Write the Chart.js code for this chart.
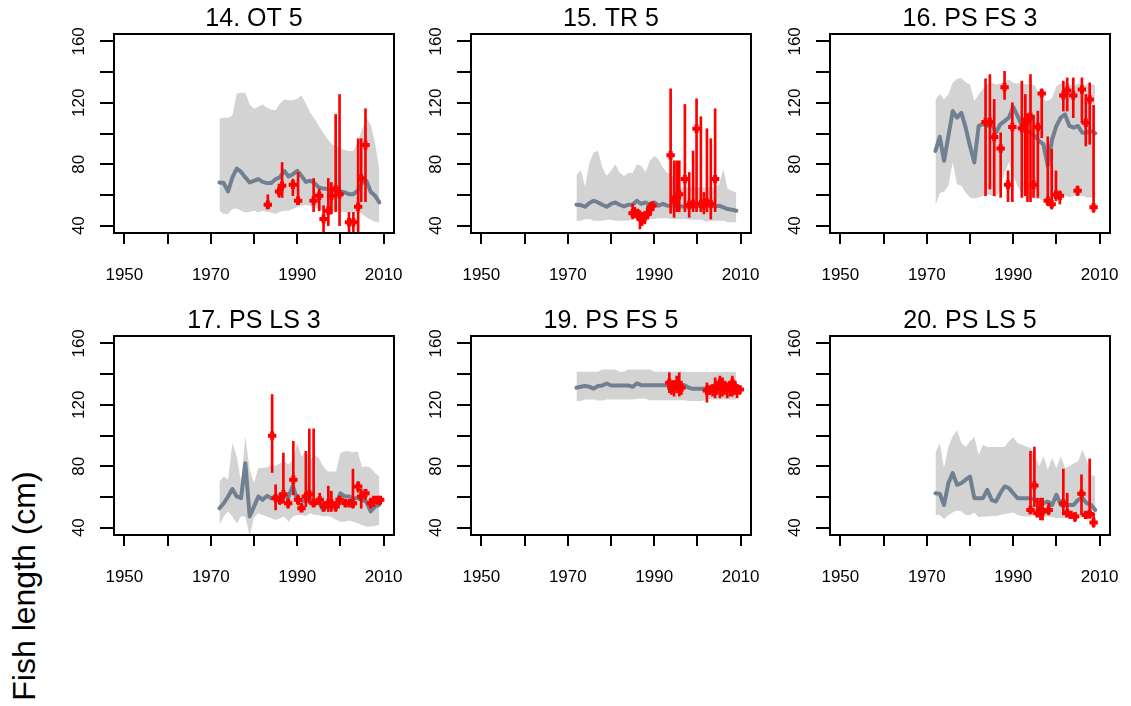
<!DOCTYPE html>
<html>
<head>
<meta charset="utf-8">
<script src="https://cdn.jsdelivr.net/npm/chart.js@4.4.0/dist/chart.umd.min.js"></script>
<style>
  html, body { margin:0; padding:0; background:#fff; }
  body { width:1131px; height:706px; position:relative; overflow:hidden; font-family:"Liberation Sans", Arial, sans-serif; }
  canvas { position:absolute; }
  #ylab { position:absolute; width:300px; height:38px; line-height:38px; text-align:center;
          font-size:32px; color:#000; left:-126.1px; top:566.5px; transform:rotate(-90deg); white-space:nowrap; }
</style>
</head>
<body>
<div id="ylab">Fish length (cm)</div>
<canvas id="c14" width="352" height="293"></canvas>
<canvas id="c15" width="352" height="293"></canvas>
<canvas id="c16" width="352" height="293"></canvas>
<canvas id="c17" width="352" height="293"></canvas>
<canvas id="c19" width="352" height="293"></canvas>
<canvas id="c20" width="352" height="293"></canvas>
<script>
// ---------- axis ticks ----------
const xTicks = [1950,1960,1970,1980,1990,2000,2010];
const xLabeled = [1950,1970,1990,2010];
const yTicks = [40,60,80,100,120,140,160];
const yLabeled = [40,80,120,160];

// ---------- model years ----------
const modelYears = [1972,1973,1974,1975,1976,1977,1978,1979,1980,1981,1982,1983,1984,1985,1986,1987,1988,1989,1990,1991,1992,1993,1994,1995,1996,1997,1998,1999,2000,2001,2002,2003,2004,2005,2006,2007,2008,2009];

// ---------- 14. OT 5 ----------
const upper14 = [109.6,110.3,110.3,111.8,126.1,126.5,126.5,118.9,116.1,117.4,118.9,116.8,115.7,115.2,119.6,122.2,121.7,121.7,122.6,124.8,119.6,113.5,109.6,104.9,100.5,96.2,93.0,91.9,90.2,89.3,88.6,88.6,94.1,102.7,110.3,105.9,94.1,76.8];
const lower14 = [49.7,47.6,47.6,50.8,51.2,49.7,48.6,49.1,49.7,48.6,49.7,49.1,48.6,47.6,49.1,49.7,49.7,50.8,51.9,53.0,53.4,53.0,51.9,50.8,49.7,48.6,49.7,49.7,49.1,48.6,48.6,48.2,49.1,47.6,45.4,43.9,42.6,42.2];
const model14 = [68.1,67.7,62.3,71.4,77.2,75.0,71.4,68.1,69.2,70.3,68.5,67.7,67.7,70.3,71.4,75.7,72.0,73.5,75.7,72.4,68.5,69.2,67.7,64.9,64.2,63.8,62.7,64.2,62.3,61.6,60.5,60.5,62.7,67.7,69.2,62.1,59.5,55.1];
const obsYear14 = [1983.2,1985.8,1986.5,1989.0,1990.2,1993.8,1995.1,1996.1,1997.2,1997.9,1998.9,1999.8,2002.0,2003.0,2004.1,2004.8,2005.8];
const obsMean14 = [53.6,62.3,66.0,66.6,56.2,56.2,59.5,44.3,49.7,59.5,63.8,60.5,42.2,42.2,52.3,70.9,92.5];
const obsLo14   = [50.8,58.4,58.4,59.5,54.0,49.1,49.7,34.6,40.0,47.6,49.1,40.0,34.6,34.6,34.6,55.6,55.6];
const obsHi14   = [60.1,67.0,81.1,70.3,74.6,70.7,63.8,53.0,70.7,68.1,112.4,125.4,48.6,48.6,96.6,96.6,116.1];

// ---------- 15. TR 5 ----------
const upper15 = [72.9,76.3,65.5,81.1,87.6,88.6,77.8,72.4,75.7,80.0,74.6,72.4,74.2,74.2,80.0,78.9,75.0,82.2,85.4,83.2,77.8,74.2,74.6,65.9,64.9,64.9,64.9,64.9,64.9,64.9,64.9,64.9,64.9,67.0,76.8,63.8,62.7,61.6];
const lower15 = [43.2,43.2,44.3,44.3,43.2,43.2,43.2,43.9,43.9,43.2,43.2,43.2,43.2,44.3,44.3,43.9,44.3,44.3,44.3,44.8,44.8,44.8,44.3,44.3,44.3,44.3,43.9,43.9,43.9,43.9,42.6,43.2,43.2,43.2,43.2,42.2,42.2,42.2];
const model15 = [53.6,53.4,52.3,54.7,56.2,55.1,53.6,52.3,54.1,55.1,53.6,52.5,53.6,53.6,56.2,54.1,55.1,53.6,55.1,53.0,54.1,53.0,53.0,53.0,52.5,52.5,53.0,52.5,53.0,52.5,53.0,53.4,52.5,53.0,51.9,50.8,50.4,49.7];
const obsYear15 = [1985.0,1985.5,1986.2,1986.7,1987.2,1987.8,1988.5,1989.1,1989.6,1993.8,1994.6,1995.2,1995.8,1997.1,1998.1,1999.0,1999.8,2000.8,2001.5,2002.2,2003.1,2004.1];
const obsMean15 = [48.0,48.0,47.6,45.4,44.3,45.4,48.2,50.8,53.0,85.8,56.9,58.4,60.5,70.3,53.4,54.1,103.1,54.1,54.1,55.1,54.1,70.3];
const obsLo15   = [44.3,45.4,43.2,37.8,40.0,41.1,44.3,46.5,49.7,48.0,45.4,49.1,49.1,49.1,45.4,49.1,49.1,49.1,47.6,49.1,44.3,49.1];
const obsHi15   = [54.1,51.9,50.8,49.7,48.6,49.1,53.0,55.1,55.6,129.1,82.2,82.2,82.2,118.9,74.6,88.6,122.6,110.9,61.6,103.1,96.6,116.1];

// ---------- 16. PS FS 3 ----------
const upper16 = [122.2,125.8,122.2,125.4,133.0,135.6,136.2,133.4,131.9,121.1,125.4,129.1,131.9,133.0,131.9,132.5,134.1,135.1,133.0,132.5,132.5,131.9,131.9,131.2,125.4,122.2,121.1,123.2,130.8,132.5,133.0,132.5,130.8,132.5,131.9,131.9,131.9,131.9];
const lower16 = [53.0,61.2,62.1,65.9,81.1,67.0,65.9,61.6,58.4,57.7,58.4,59.5,60.5,59.5,58.4,63.8,74.6,81.1,72.4,65.9,60.5,59.5,58.4,57.3,57.3,56.2,55.1,56.2,59.5,60.5,59.5,58.4,59.5,59.5,59.5,58.4,58.4,58.4];
const model16 = [88.6,97.9,82.2,98.4,114.6,110.3,113.5,103.8,91.9,81.1,104.9,106.4,104.9,105.9,100.5,105.9,108.1,110.3,117.4,111.4,104.9,101.6,100.5,98.4,95.1,93.0,78.9,96.2,104.9,110.3,112.4,104.9,103.8,104.9,100.5,100.5,101.6,100.1];
const obsYear16 = [1983.6,1984.6,1985.6,1987.1,1988.0,1988.8,1989.8,1992.0,1992.8,1993.3,1994.0,1994.7,1995.7,1996.6,1998.0,1998.9,1999.9,2000.8,2001.6,2002.5,2003.9,2004.9,2005.9,2006.8,2007.7,2008.6];
const obsMean16 = [107.5,107.5,97.7,90.2,130.2,66.6,104.2,103.4,107.0,109.2,110.9,66.6,104.2,126.1,56.2,54.0,60.1,59.5,124.8,128.0,124.8,62.7,128.6,107.0,122.2,51.9];
const obsLo16   = [59.5,63.8,59.5,58.4,122.2,55.6,55.6,58.4,59.5,55.6,55.6,58.4,58.4,97.3,53.0,50.8,56.2,54.1,114.6,114.6,110.3,59.5,107.0,91.9,93.0,48.6];
const obsHi16   = [135.6,138.4,122.2,100.5,140.5,75.7,120.0,134.1,125.4,113.0,138.4,111.4,114.6,129.1,97.9,89.7,75.7,62.7,134.1,136.2,136.2,65.9,136.2,125.4,133.0,118.3];

// ---------- 17. PS LS 3 ----------
const upper17 = [70.1,73.3,71.2,95.1,86.4,70.1,99.5,77.7,69.0,78.8,78.8,79.4,80.3,80.3,82.0,83.1,81.0,84.2,95.1,86.4,89.7,84.2,87.5,85.3,79.9,76.6,76.6,76.6,88.6,89.7,89.7,89.0,89.7,79.4,79.9,78.8,75.5,73.3];
const lower17 = [41.7,47.2,50.5,47.2,42.8,47.2,47.2,34.1,46.8,49.4,48.3,47.2,46.1,45.0,46.1,47.2,43.9,47.2,48.3,48.3,47.6,49.4,48.3,48.3,47.2,47.6,46.8,45.0,43.9,43.9,44.6,43.9,42.8,41.7,40.7,40.7,41.1,41.7];
const model17 = [52.6,55.9,60.3,65.1,60.3,59.2,82.0,47.2,53.7,60.3,58.1,60.7,59.2,60.3,59.2,60.3,60.3,67.2,58.1,58.1,57.0,58.5,55.9,57.0,51.5,54.8,53.7,53.7,62.4,60.3,60.3,59.2,59.2,58.1,57.0,50.5,53.7,54.8];
const obsYear17 = [1984.2,1985.0,1986.0,1986.8,1987.9,1989.1,1990.2,1991.0,1992.0,1992.8,1993.8,1995.2,1996.2,1997.2,1997.9,1998.9,1999.8,2001.2,2002.2,2002.9,2004.1,2004.8,2005.8,2007.0,2007.8,2008.7,2009.2];
const obsMean17 = [99.9,59.2,58.1,61.8,55.9,71.2,58.1,52.6,60.3,61.8,55.9,58.1,53.7,55.9,55.9,53.7,58.1,55.9,55.9,55.9,66.8,60.3,62.4,55.9,58.1,58.1,58.1];
const obsLo17   = [75.9,51.5,55.0,55.9,52.6,61.4,54.8,50.5,53.7,55.9,53.7,54.8,50.5,50.5,50.5,50.5,55.0,53.7,53.7,52.6,63.0,52.6,58.1,52.6,53.7,55.0,55.0];
const obsHi17   = [126.7,67.9,62.4,88.6,59.2,96.2,61.4,56.1,89.7,104.3,104.3,62.4,57.0,67.0,63.7,57.0,60.3,58.1,58.1,78.1,70.1,65.1,64.6,59.2,60.3,60.3,60.3];

// ---------- 19. PS FS 5 ----------
const upper19 = [141.5,141.5,141.5,141.5,141.5,141.5,143.0,143.0,143.0,143.0,141.5,141.5,143.0,143.0,143.0,143.0,143.0,143.0,141.5,141.5,141.5,141.5,141.5,141.5,141.5,141.5,141.3,141.3,141.3,141.3,141.3,141.3,141.3,141.3,141.3,141.3,141.3,141.3];
const lower19 = [122.4,122.4,123.4,123.4,123.4,122.8,122.8,123.4,123.4,123.4,123.4,123.4,123.4,123.4,123.9,123.9,123.9,123.0,123.0,123.0,123.0,123.0,123.0,123.0,123.0,123.0,122.4,122.4,122.4,122.4,123.4,123.4,123.4,123.4,123.4,123.4,123.4,123.4];
const model19 = [131.1,131.7,132.2,131.7,130.6,132.2,132.6,133.9,132.6,132.6,132.6,132.6,132.6,131.7,133.9,132.8,132.8,132.8,132.8,132.8,132.8,132.8,132.8,132.8,132.8,132.8,131.1,130.4,130.4,130.4,130.4,130.0,130.0,130.4,130.4,130.4,130.4,130.0];
const obsYear19 = [1993.5,1994.0,1994.6,1995.2,1995.8,1996.3,2002.2,2002.7,2003.5,2004.1,2004.6,2005.2,2005.8,2006.3,2006.9,2007.5,2008.1,2008.6,2009.2,2009.8];
const obsMean19 = [134.3,131.1,133.2,132.2,132.2,131.1,129.3,129.3,130.4,131.1,132.2,134.3,131.1,132.6,131.1,132.2,134.3,131.7,130.4,130.0];
const obsLo19   = [127.8,126.7,125.6,127.8,125.6,126.7,121.7,126.7,125.6,124.5,126.7,124.5,125.6,126.7,124.5,125.6,125.6,126.7,124.5,126.7];
const obsHi19   = [140.9,135.4,135.4,138.7,140.9,135.4,134.3,132.6,133.2,137.6,134.3,138.7,137.6,135.4,134.3,133.2,138.7,135.4,133.2,132.2];

// ---------- 20. PS LS 5 ----------
const upper20 = [88.6,95.1,78.8,92.9,99.5,103.4,95.1,92.5,96.2,99.0,87.5,94.0,92.5,92.5,92.5,92.5,92.5,96.2,99.0,95.1,94.0,92.9,91.9,87.5,79.9,86.4,77.7,85.3,78.8,86.4,78.8,79.9,82.0,83.1,90.8,84.2,74.4,73.3];
const lower20 = [48.3,48.3,45.4,48.3,49.8,51.1,50.5,48.3,48.3,49.8,46.8,47.2,47.2,47.6,47.6,48.3,48.9,49.4,49.8,48.3,47.6,47.2,47.2,48.3,47.6,46.8,47.2,46.8,46.1,46.1,46.1,46.1,46.1,46.1,46.8,46.8,46.1,45.4];
const model20 = [62.4,62.0,54.8,69.0,75.5,67.9,69.0,71.2,73.3,59.2,59.2,59.2,64.6,58.1,57.0,62.4,66.8,65.7,62.4,59.2,59.2,59.2,59.2,58.1,55.9,55.9,57.0,54.8,61.4,54.8,54.8,54.8,54.8,58.1,59.2,55.9,54.8,51.5];
const obsYear20 = [1994.0,1994.9,1995.6,1996.3,1996.8,1998.2,2001.6,2002.5,2003.3,2004.3,2005.8,2006.8,2007.7,2008.6];
const obsMean20 = [51.5,67.5,49.4,51.5,50.5,51.5,55.9,49.4,48.3,47.2,62.0,48.3,48.9,43.3];
const obsLo20   = [49.4,53.7,47.2,45.0,45.0,48.3,48.3,47.2,46.1,43.9,48.3,46.1,46.1,40.2];
const obsHi20   = [89.7,92.5,59.2,59.2,59.2,55.9,78.1,62.4,50.5,49.8,74.4,50.5,84.7,49.4];

// ---------- styling ----------
const RED = '#FF0000', SLATE = '#708090', BAND = '#D3D3D3';
const FONT = '"Liberation Sans", Arial, Helvetica, sans-serif';

const boxPlugin = {
  id: 'box',
  afterDatasetsDraw(chart) {
    const a = chart.chartArea, c = chart.ctx;
    c.save(); c.strokeStyle = '#000'; c.lineWidth = 2;
    c.strokeRect(a.left, a.top, a.right - a.left, a.bottom - a.top);
    c.restore();
  }
};

function noPad(s) { s.paddingLeft = 0; s.paddingRight = 0; s.paddingTop = 0; s.paddingBottom = 0; }

function panel(id, left, top, title, upper, lower, model, oy, om, olo, ohi) {
  const cv = document.getElementById(id);
  cv.style.left = left + 'px'; cv.style.top = top + 'px';
  cv.style.width = '352px'; cv.style.height = '293px';
  new Chart(cv, {
    type: 'line',
    data: {
      datasets: [
        { type:'line', data: oy.map((x,i)=>({x, y: om[i]})), showLine:false,
          pointStyle:'cross', pointRadius:4.2, pointBorderWidth:4, borderColor:RED, backgroundColor:RED, order:0 },
        { type:'bar', data: oy.map((x,i)=>({x, y:[olo[i], ohi[i]]})), backgroundColor:RED,
          barThickness:2, grouped:false, order:1 },
        { type:'line', data: modelYears.map((x,i)=>({x, y: model[i]})), borderColor:SLATE, borderWidth:4,
          pointRadius:0, borderJoinStyle:'round', borderCapStyle:'round', fill:false, order:2 },
        { type:'line', data: modelYears.map((x,i)=>({x, y: upper[i]})), borderColor:'rgba(0,0,0,0)', borderWidth:1,
          pointRadius:0, fill:'+1', backgroundColor:BAND, order:3 },
        { type:'line', data: modelYears.map((x,i)=>({x, y: lower[i]})), borderColor:'rgba(0,0,0,0)', borderWidth:1,
          pointRadius:0, fill:false, order:4 }
      ]
    },
    options: {
      responsive:false, animation:false, devicePixelRatio:1, events:[],
      layout: { padding: { left:0, right:12, top:0, bottom:0 } },
      plugins: {
        legend: { display:false }, tooltip: { enabled:false },
        title: { display:true, text:title, color:'#000', fullSize:false,
                 font:{ family:FONT, size:25, weight:'normal', lineHeight:1 }, padding:{ top:7, bottom:2 } }
      },
      scales: {
        x: { type:'linear', min:1947.6, max:2012.4, offset:false,
             afterBuildTicks: s => { s.ticks = xTicks.map(v => ({ value:v })); },
             afterFit: s => { s.height = 60; noPad(s); },
             ticks: { callback: v => xLabeled.includes(v) ? String(v) : '', autoSkip:false, maxRotation:0,
                      color:'#000', font:{ family:FONT, size:17 }, padding:21 },
             grid: { drawOnChartArea:false, drawTicks:true, tickLength:11, color:'#000', lineWidth:2, offset:false },
             border: { display:false } },
        y: { type:'linear', min:35.2, max:164.8,
             afterBuildTicks: s => { s.ticks = yTicks.map(v => ({ value:v })); },
             afterFit: s => { s.width = 60; noPad(s); },
             ticks: { callback: v => yLabeled.includes(v) ? String(v) : '', autoSkip:false,
                      minRotation:90, maxRotation:90, crossAlign:'center',
                      color:'#000', font:{ family:FONT, size:17 }, padding:7 },
             grid: { drawOnChartArea:false, drawTicks:true, tickLength:14, color:'#000', lineWidth:2 },
             border: { display:false } }
      }
    },
    plugins: [boxPlugin]
  });
}

panel('c14', 54, 0,   '14. OT 5',    upper14, lower14, model14, obsYear14, obsMean14, obsLo14, obsHi14);
panel('c15', 411, 0,  '15. TR 5',    upper15, lower15, model15, obsYear15, obsMean15, obsLo15, obsHi15);
panel('c16', 770, 0,  '16. PS FS 3', upper16, lower16, model16, obsYear16, obsMean16, obsLo16, obsHi16);
panel('c17', 54, 302, '17. PS LS 3', upper17, lower17, model17, obsYear17, obsMean17, obsLo17, obsHi17);
panel('c19', 411, 302,'19. PS FS 5', upper19, lower19, model19, obsYear19, obsMean19, obsLo19, obsHi19);
panel('c20', 770, 302,'20. PS LS 5', upper20, lower20, model20, obsYear20, obsMean20, obsLo20, obsHi20);
</script>
</body>
</html>
